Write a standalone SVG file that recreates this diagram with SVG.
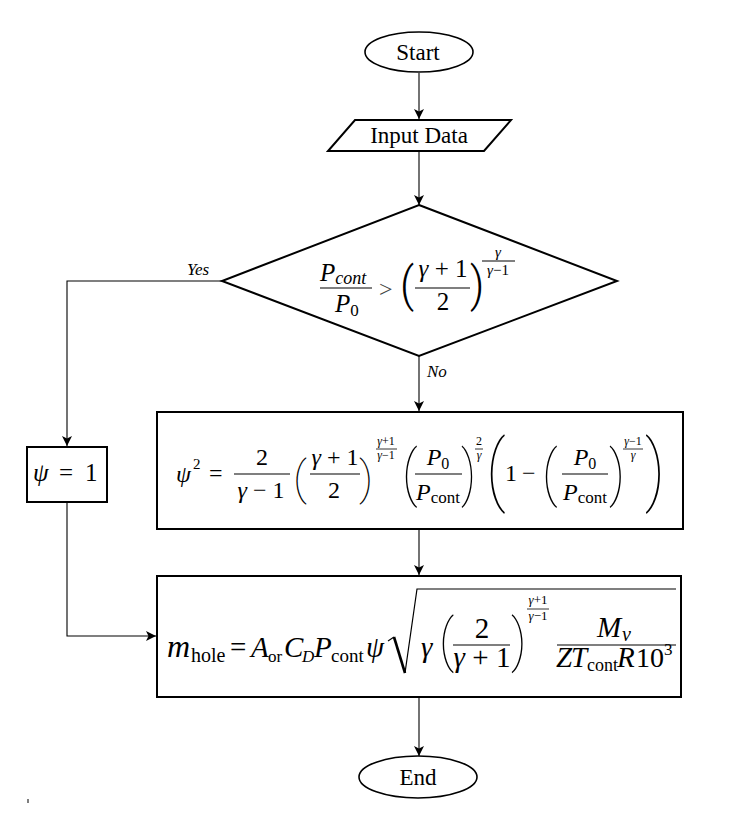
<svg xmlns="http://www.w3.org/2000/svg" width="742" height="834" viewBox="0 0 742 834">
<defs>
<marker id="arr" viewBox="0 0 10 10" refX="10" refY="5" markerWidth="10" markerHeight="10" markerUnits="userSpaceOnUse" orient="auto">
<path d="M0,0 L10,5 L0,10 L2.5,5 z" fill="#000"/>
</marker>
<style>
.box{fill:#fff;stroke:#000;stroke-width:2}
.ell{fill:#fff;stroke:#000;stroke-width:1.6}
.conn{fill:none;stroke:#000;stroke-width:1.1;marker-end:url(#arr)}
.t{font-family:"Liberation Serif","Times New Roman",serif;fill:#000}
.i{font-style:italic}
.p{font-family:Roboto,"Liberation Sans",sans-serif;font-weight:100}
.p3{font-family:Roboto,"Liberation Sans",sans-serif;font-weight:300}
.bar{stroke:#000;stroke-width:1.2}
.thin{stroke:#000;stroke-width:0.8}
</style>
</defs>
<rect width="742" height="834" fill="#fff"/>

<g id="connectors">
<path class="conn" d="M419,73 V119"/>
<path class="conn" d="M419,151 V205"/>
<path class="conn" d="M419,356 V411"/>
<path class="conn" d="M222,281 H67 V446"/>
<path class="conn" d="M419,529 V575"/>
<path class="conn" d="M67,502 V636 H156"/>
<path class="conn" d="M419,697 V756"/>
<text class="t i" x="187" y="275" font-size="17">Yes</text>
<text class="t i" x="427" y="377" font-size="17">No</text>
</g>

<g id="node-start">
<ellipse class="ell" cx="419" cy="52" rx="54" ry="20"/>
<text class="t" x="418" y="60" font-size="23" text-anchor="middle">Start</text>
</g>

<g id="node-input">
<polygon class="box" points="355,120 511,120 484,151 328,151"/>
<text class="t" x="419" y="143" font-size="23" text-anchor="middle">Input Data</text>
</g>

<g id="node-decision" class="t">
<polygon class="box" points="419,205 617,281 419,356 222,281"/>
<text x="320" y="281" font-size="25"><tspan class="i">P</tspan><tspan class="i" font-size="18" dy="3">cont</tspan></text>
<line class="bar" x1="320" y1="288" x2="372" y2="288"/>
<text x="335" y="312" font-size="25"><tspan class="i">P</tspan><tspan font-size="17" dy="4">0</tspan></text>
<text x="379" y="297" font-size="24" fill="#444">&gt;</text>
<text class="p3" font-size="49" transform="translate(400,300.7) scale(0.9,1)">(</text>
<text x="443" y="277" font-size="25" text-anchor="middle"><tspan class="i">γ</tspan> + 1</text>
<line class="bar" x1="415" y1="288" x2="470" y2="288"/>
<text x="443" y="310" font-size="25" text-anchor="middle">2</text>
<text class="p3" font-size="49" transform="translate(470,300.7) scale(0.9,1)">)</text>
<text class="i" x="498" y="257" font-size="15" text-anchor="middle">γ</text>
<line x1="482" y1="261" x2="515" y2="261" stroke="#000" stroke-width="1"/>
<text x="498" y="275" font-size="15" text-anchor="middle"><tspan class="i">γ</tspan>−1</text>
</g>

<g id="node-psi1" class="t">
<rect class="box" x="27" y="447" width="80" height="55"/>
<text class="i" x="33" y="481" font-size="25">ψ</text>
<text x="59" y="481" font-size="25">=</text>
<text x="85" y="481" font-size="25">1</text>
</g>

<g id="node-psi2" class="t" font-size="24" fill="#111">
<rect class="box" x="157" y="412" width="526" height="117"/>
<text class="i" x="176" y="482">ψ</text>
<text x="193" y="469" font-size="15">2</text>
<text x="209" y="481">=</text>
<text x="262" y="465" text-anchor="middle">2</text>
<line class="bar" x1="234" y1="474" x2="290" y2="474"/>
<text x="261" y="498" text-anchor="middle"><tspan class="i">γ</tspan> − 1</text>
<text class="p" font-size="47" transform="translate(293,494.2)">(</text>
<text x="335" y="465" text-anchor="middle"><tspan class="i">γ</tspan> + 1</text>
<line class="bar" x1="310" y1="474" x2="360" y2="474"/>
<text x="334" y="498" text-anchor="middle">2</text>
<text class="p" font-size="47" transform="translate(359,494.2)">)</text>
<text x="386" y="445" font-size="12" text-anchor="middle"><tspan class="i">γ</tspan>+1</text>
<line class="thin" x1="376" y1="449" x2="397" y2="449"/>
<text x="386" y="459" font-size="12" text-anchor="middle"><tspan class="i">γ</tspan>−1</text>
<text class="p" font-size="62" transform="translate(402,493.7) scale(0.85,1)">(</text>
<text x="438" y="465" text-anchor="middle"><tspan class="i">P</tspan><tspan font-size="16" dy="4">0</tspan></text>
<line class="bar" x1="415" y1="474" x2="462" y2="474"/>
<text x="438" y="500" text-anchor="middle"><tspan class="i">P</tspan><tspan font-size="17" dy="3">cont</tspan></text>
<text class="p" font-size="62" transform="translate(461,493.7) scale(0.8,1)">)</text>
<text x="479" y="445" font-size="12" text-anchor="middle">2</text>
<line class="thin" x1="475" y1="449" x2="483" y2="449"/>
<text class="i" x="479" y="459" font-size="12" text-anchor="middle">γ</text>
<text class="p" font-size="78" transform="translate(486,496) scale(0.85,1)">(</text>
<text x="505" y="481">1</text>
<text x="522" y="481">−</text>
<text class="p" font-size="62" transform="translate(542,493.7) scale(0.85,1)">(</text>
<text x="585" y="465" text-anchor="middle"><tspan class="i">P</tspan><tspan font-size="16" dy="4">0</tspan></text>
<line class="bar" x1="562" y1="474" x2="608" y2="474"/>
<text x="585" y="500" text-anchor="middle"><tspan class="i">P</tspan><tspan font-size="17" dy="3">cont</tspan></text>
<text class="p" font-size="62" transform="translate(609,493.7) scale(0.85,1)">)</text>
<text x="633" y="445" font-size="12" text-anchor="middle"><tspan class="i">γ</tspan>−1</text>
<line class="thin" x1="623" y1="449" x2="643" y2="449"/>
<text class="i" x="633" y="459" font-size="12" text-anchor="middle">γ</text>
<text class="p" font-size="78" transform="translate(645,496) scale(0.85,1)">)</text>
</g>

<g id="node-mhole" class="t" font-size="29">
<rect class="box" x="157" y="576" width="524" height="121"/>
<text class="i" x="167" y="657" font-size="32">m</text>
<text x="191" y="662" font-size="20">hole</text>
<text x="230" y="657">=</text>
<text class="i" x="251" y="657">A</text>
<text x="268" y="662" font-size="17">or</text>
<text class="i" x="284" y="657">C</text>
<text class="i" x="302" y="662" font-size="17">D</text>
<text class="i" x="314" y="657">P</text>
<text x="331" y="662" font-size="19">cont</text>
<text class="i" x="366" y="657">ψ</text>
<path d="M388,641 L394,637" fill="none" stroke="#000" stroke-width="1.2"/>
<path d="M394,637 L405,673" fill="none" stroke="#000" stroke-width="2.6"/>
<path d="M405,673 L417,589 H676" fill="none" stroke="#000" stroke-width="1.2"/>
<text class="i" x="421" y="657">γ</text>
<text class="p" font-size="57" transform="translate(439,659.9) scale(0.9,1)">(</text>
<text x="482" y="638" text-anchor="middle">2</text>
<line class="bar" x1="453" y1="645" x2="510" y2="645"/>
<text x="482" y="667" text-anchor="middle"><tspan class="i">γ</tspan> + 1</text>
<text class="p" font-size="57" transform="translate(511,659.9) scale(0.9,1)">)</text>
<text x="538" y="604" font-size="13" text-anchor="middle"><tspan class="i">γ</tspan>+1</text>
<line class="thin" x1="527" y1="609" x2="549" y2="609"/>
<text x="538" y="620" font-size="13" text-anchor="middle"><tspan class="i">γ</tspan>−1</text>
<text x="597" y="637" class="i">M</text>
<text x="622" y="641" class="i" font-size="20">v</text>
<line class="bar" x1="557" y1="645" x2="676" y2="645"/>
<text class="i" x="556" y="667">Z</text>
<text class="i" x="571" y="667">T</text>
<text x="587" y="671" font-size="18">cont</text>
<text class="i" x="617" y="667">R</text>
<text x="636" y="667" font-size="28">10</text>
<text x="664" y="655" font-size="17">3</text>
</g>

<g id="node-end">
<ellipse class="ell" cx="418" cy="777" rx="59" ry="21"/>
<text class="t" x="418" y="785" font-size="23" text-anchor="middle">End</text>
</g>

<rect x="27.5" y="799" width="1" height="4" fill="#000"/>
</svg>
